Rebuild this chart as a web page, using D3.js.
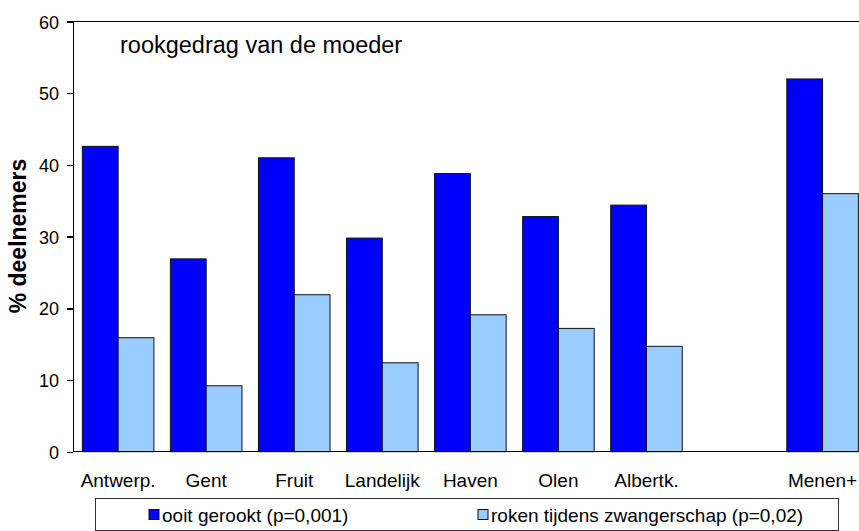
<!DOCTYPE html>
<html>
<head>
<meta charset="utf-8">
<script src="https://cdn.jsdelivr.net/npm/d3@7"></script>
<style>
	body { margin: 0; background: #fff; }
	svg { display: block; font-family: "Liberation Sans", Arial, sans-serif; }
	.axis path, .axis line { stroke: #000; stroke-width: 1.4; shape-rendering: crispEdges; }
	.axis text { fill: #000; font-size: 18px; }
</style>
</head>
<body>
<div class="chart"></div>
<script>
	const categories = ["Antwerp.", "Gent", "Fruit", "Landelijk", "Haven", "Olen", "Albertk.", "", "Menen+"];
	const ooitGerookt = [42.6, 26.9, 41.0, 29.8, 38.8, 32.8, 34.4, null, 52.0];
	const rokenZwanger = [15.9, 9.2, 21.9, 12.4, 19.1, 17.2, 14.7, null, 36.0];
	const seriesNames = ["ooit gerookt (p=0,001)", "roken tijdens zwangerschap (p=0,02)"];
	const yTicks = [0, 10, 20, 30, 40, 50, 60];

(function() {

	const width = 859,
		height = 531,
		plot = {left: 73, right: 866.6, top: 21.6, bottom: 451.7};

	const colors = ["#0000ff", "#99ccff"];

	const svg = d3.select(".chart").append("svg")
		.attr("width", width)
		.attr("height", height);

	// slots keyed by index so the empty gap slot stays unique
	const x = d3.scaleBand()
		.domain(categories.map((d, i) => i))
		.range([74.1, plot.right])
		.paddingInner(0.187)
		.paddingOuter(0.0935);

	const xs = d3.scaleBand()
		.domain([0, 1])
		.range([0, x.bandwidth()]);

	const y = d3.scaleLinear()
		.domain([0, 60])
		.range([plot.bottom, plot.top]);

	const data = categories.map((c, i) => ({
		i: i,
		values: [ooitGerookt[i], rokenZwanger[i]]
	}));

	// top border of plot area
	svg.append("line")
		.attr("x1", plot.left)
		.attr("x2", plot.right)
		.attr("y1", y(60))
		.attr("y2", y(60))
		.attr("stroke", "#000")
		.attr("stroke-width", 1.4)
		.attr("shape-rendering", "crispEdges");

	const groups = svg.selectAll(".group")
		.data(data.filter(d => d.values[0] != null))
		.enter().append("g")
		.attr("class", "group")
		.attr("transform", d => "translate(" + x(d.i) + ",0)");

	groups.selectAll("rect")
		.data(d => d.values.map((v, k) => ({k: k, v: v})))
		.enter().append("rect")
		.attr("x", d => xs(d.k))
		.attr("width", xs.bandwidth())
		.attr("y", d => y(d.v))
		.attr("height", d => y(0) - y(d.v))
		.attr("fill", d => colors[d.k])
		.attr("stroke", "#111")
		.attr("stroke-width", 1);

	svg.append("g")
		.attr("class", "y axis")
		.attr("transform", "translate(" + plot.left + ",0)")
		.call(d3.axisLeft(y).tickValues(yTicks).tickSize(6).tickPadding(8).tickSizeOuter(0))
		.selectAll("text")
		.attr("dy", "0.36em");

	// x axis line
	svg.append("line")
		.attr("x1", plot.left)
		.attr("x2", plot.right)
		.attr("y1", y(0))
		.attr("y2", y(0))
		.attr("stroke", "#000")
		.attr("stroke-width", 1.4)
		.attr("shape-rendering", "crispEdges");

	svg.selectAll(".xlabel")
		.data(categories)
		.enter().append("text")
		.attr("class", "xlabel")
		.attr("x", (d, i) => x(i) + x.bandwidth() / 2)
		.attr("y", 487)
		.attr("text-anchor", "middle")
		.style("font-size", "19px")
		.text(d => d);

	svg.append("text")
		.attr("x", 120)
		.attr("y", 52.5)
		.style("font-size", "23.5px")
		.text("rookgedrag van de moeder");

	svg.append("text")
		.attr("transform", "translate(26,236) rotate(-90)")
		.attr("text-anchor", "middle")
		.style("font-size", "23px")
		.style("font-weight", "bold")
		.text("% deelnemers");

	function renderLegend() {
		const legend = svg.append("g").attr("class", "legend");

		legend.append("rect")
			.attr("x", 95.5)
			.attr("y", 498.5)
			.attr("width", 743)
			.attr("height", 32)
			.attr("fill", "#fff")
			.attr("stroke", "#333")
			.attr("stroke-width", 1);

		const itemX = [149, 478];

		const item = legend.selectAll(".item")
			.data(seriesNames)
			.enter().append("g")
			.attr("class", "item")
			.attr("transform", (d, i) => "translate(" + itemX[i] + ",509.5)");

		item.append("rect")
			.attr("width", 10)
			.attr("height", 10)
			.attr("fill", (d, i) => colors[i])
			.attr("stroke", "#111")
			.attr("stroke-width", 1);

		item.append("text")
			.attr("x", 13)
			.attr("y", 12.5)
			.style("font-size", "19px")
			.text(d => d);
	}

	renderLegend();

})();
</script>
</body>
</html>
